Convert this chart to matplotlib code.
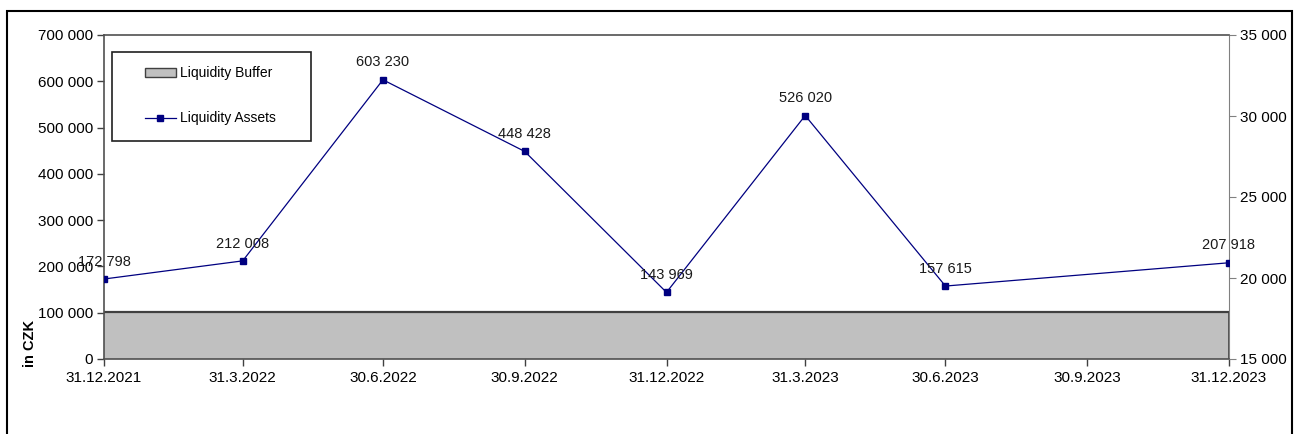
import datetime as dt

import matplotlib.pyplot as plt
from matplotlib.patches import Rectangle
from matplotlib.lines import Line2D
from matplotlib.ticker import FuncFormatter, MultipleLocator

plt.rcParams['font.family'] = ['Liberation Sans', 'DejaVu Sans']

# data
point_dates = ['31.12.2021', '31.3.2022', '30.6.2022', '30.9.2022', '31.12.2022',
               '31.3.2023', '30.6.2023', '31.12.2023']
liquidity_assets = [172798, 212008, 603230, 448428, 143969, 526020, 157615, 207918]
tick_dates = ['31.12.2021', '31.3.2022', '30.6.2022', '30.9.2022', '31.12.2022',
              '31.3.2023', '30.6.2023', '30.9.2023', '31.12.2023']
buffer_dates = ['31.12.2021', '31.12.2023']
liquidity_buffer = [101500, 101500]


def to_date(s):
    return dt.datetime.strptime(s, '%d.%m.%Y')


def fmt_num(v, pos=None):
    return f'{int(v):,}'.replace(',', ' ')


x_pts = [to_date(s) for s in point_dates]
x_ticks = [to_date(s) for s in tick_dates]
x_buf = [to_date(s) for s in buffer_dates]

fig = plt.figure(figsize=(12.96, 4.34), dpi=100)
ax = fig.add_axes([104 / 1296, 1 - 359 / 434, 1125 / 1296, 324 / 434])

# buffer area
ax.fill_between(x_buf, 0, liquidity_buffer, facecolor='#c0c0c0',
                edgecolor='none', zorder=1)
ax.plot(x_buf, liquidity_buffer, color='#404040', lw=1.6, zorder=2)
ax.plot([x_buf[-1], x_buf[-1]], [0, liquidity_buffer[-1]], color='#404040',
        lw=1.2, zorder=2)

# assets line
ax.plot(x_pts, liquidity_assets, color='#000080', lw=0.9, marker='s',
        markersize=4.5, markerfacecolor='#000080', markeredgecolor='#000080',
        zorder=3)
for x, v in zip(x_pts, liquidity_assets):
    ax.annotate(fmt_num(v), (x, v), xytext=(0, 12.5), textcoords='offset points',
                ha='center', va='center', fontsize=10.5, color='#1a1a1a',
                zorder=4)

ax.set_xlim(x_ticks[0], x_ticks[-1])
ax.set_ylim(0, 700000)
ax.yaxis.set_major_locator(MultipleLocator(100000))
ax.yaxis.set_major_formatter(FuncFormatter(fmt_num))
ax.set_xticks(x_ticks)
ax.set_xticklabels(tick_dates)
ax.tick_params(axis='both', labelsize=11, length=5, width=1, color='#404040',
               pad=3)
ax.tick_params(axis='x', pad=4)

for side in ['left', 'top', 'bottom']:
    ax.spines[side].set_color('#505050')
    ax.spines[side].set_linewidth(1.2)
ax.spines['right'].set_color('#808080')

ax2 = ax.twinx()
ax2.set_ylim(15000, 35000)
ax2.yaxis.set_major_locator(MultipleLocator(5000))
ax2.yaxis.set_major_formatter(FuncFormatter(fmt_num))
ax2.tick_params(axis='y', labelsize=11, length=5, color='#808080', pad=3)
for side in ['left', 'top', 'bottom', 'right']:
    ax2.spines[side].set_visible(False)

# legend with its own frame
handles = [Rectangle((0, 0), 1, 1, facecolor='#c0c0c0', edgecolor='#404040', lw=1),
           Line2D([], [], color='#000080', lw=0.9, marker='s', markersize=4.5)]
leg = ax.legend(handles, ['Liquidity Buffer', 'Liquidity Assets'],
                loc='upper left', bbox_to_anchor=(41 / 1125, 1 - 31 / 324),
                frameon=False, fontsize=10, labelspacing=2.25, handlelength=2.2,
                handleheight=0.6, handletextpad=0.35, borderaxespad=0,
                borderpad=0)
ax.add_patch(Rectangle((8 / 1125, 1 - 106 / 324), 199 / 1125, 89 / 324,
                       transform=ax.transAxes, fill=False, edgecolor='#202020',
                       lw=1.2, zorder=5, clip_on=False))

fig.text(30 / 1296, 1 - 343 / 434, 'in CZK', rotation=90, fontsize=10.5,
         fontweight='bold', ha='center', va='center')

# outer frame
fig.patches.append(Rectangle((7 / 1296, -0.05), 1285 / 1296, 1.05 - 11 / 434,
                             transform=fig.transFigure, fill=False,
                             edgecolor='black', lw=1.5))

fig.savefig('out.png', dpi=100)
